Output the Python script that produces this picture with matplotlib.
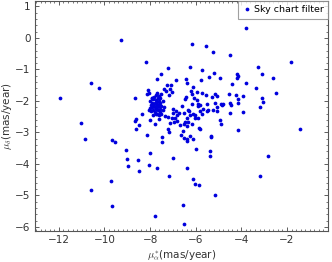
import matplotlib
matplotlib.use("Agg")
import matplotlib.pyplot as plt
from matplotlib.ticker import MultipleLocator

pm_ra = [
    -9.28, -8.18, -10.6, -10.26, -11.96, -11.04, -3.8, -6.18, -5.54, -5.23,
    -4.5, -1.82, -7.22, -6.25, -3.27, -5.74, -5.19, -5.42, -4.94, -4.18,
    -4.14, -4.21, -3.11, -2.6, -5.77, -4.43, -3.81, -3.37, -2.5, -1.41,
    -7.51, -7.7, -6.87, -6.43, -6.4, -6.14, -6.2, -5.93, -7.39, -8.68,
    -7.25, -7.1, -7.13, -7.06, -7.18, -8.15, -8.04, -7.91, -8.36, -8.6,
    -8.67, -8.48, -8.62, -8.0, -7.79, -7.72, -7.5, -7.35, -7.6, -7.23,
    -7.13, -6.99, -6.91, -6.72, -6.81, -6.58, -6.52, -6.4, -6.33, -6.18,
    -6.11, -6.04, -5.92, -6.52, -6.69, -6.37, -6.18, -6.55,
    -5.53, -5.28, -5.06, -4.53, -4.25, -3.92, -5.96, -5.89, -5.82, -5.52,
    -5.16, -4.89, -4.79, -4.84, -4.5, -4.46, -4.16, -4.14, -3.11, -3.04,
    -3.17, -5.67, -5.45, -5.23, -5.08, -5.82, -5.74, -4.5, -3.92, -5.89,
    -4.94, -4.91, -5.86, -5.82, -5.33, -4.14,
    -10.85, -9.68, -9.54, -9.05, -9.02, -8.97, -8.52, -8.5, -8.02, -8.04,
    -8.13, -7.47, -7.47, -7.69, -9.7, -10.57, -9.65, -7.79, -6.65, -6.5,
    -6.4, -6.39, -6.25, -6.14, -5.31, -5.99, -5.38, -5.38, -6.99, -2.85,
    -7.19, -6.4, -3.17, -6.11, -6.05, -5.85, -5.14, -6.55, -6.5,
    -7.15, -6.96, -6.47, -6.34, -8.08, -7.28, -6.47, -6.43, -6.18, -6.07,
    -5.74, -5.16, -7.01, -6.87, -6.81, -6.29, -6.25, -6.02, -5.5, -5.05,
    -7.21, -7.06,
    -7.85, -7.75, -7.65, -7.9, -7.8, -7.7, -7.6, -7.95, -7.85, -7.75,
    -7.65, -7.55, -7.9, -7.8, -7.7, -7.6, -7.5, -7.85, -7.75, -7.65,
    -7.55, -7.95, -7.8, -7.7, -7.6, -7.72, -7.55, -7.45, -7.82, -8.0,
    -8.02, -7.68, -7.45, -7.88, -7.62, -7.5, -7.58, -7.92, -8.05, -7.4,
]
pm_dec = [
    -0.06, -0.76, -1.44, -1.58, -1.9, -2.69, 0.32, -0.18, -0.25, -0.44,
    -0.54, -0.78, -0.96, -0.92, -0.92, -1.02, -1.12, -1.23, -1.28, -1.15,
    -1.2, -1.26, -1.13, -1.26, -1.34, -1.46, -1.44, -1.6, -1.75, -2.89,
    -1.13, -1.31, -1.33, -1.31, -1.43, -1.57, -1.68, -1.72, -1.62, -1.9,
    -1.51, -1.51, -1.63, -1.73, -1.82, -1.79, -1.76, -1.9, -2.41, -2.58,
    -2.64, -2.76, -2.9, -2.62, -2.74, -2.42, -2.4, -2.48, -2.58, -2.88,
    -2.71, -2.39, -2.53, -2.37, -2.64, -2.16, -2.37, -2.53, -2.29, -2.11,
    -2.4, -2.53, -2.16, -2.74, -2.76, -2.8, -2.72, -2.96,
    -1.82, -1.86, -1.84, -1.79, -1.82, -1.84, -1.98, -2.09, -2.14, -2.11,
    -2.05, -2.09, -2.1, -2.13, -2.05, -2.12, -1.95, -2.05, -1.91, -2.02,
    -2.19, -2.25, -2.3, -2.3, -2.32, -2.32, -2.4, -2.37, -2.35, -2.53,
    -2.62, -2.72, -2.85, -2.9, -3.14, -2.93,
    -3.22, -3.25, -3.31, -3.57, -3.84, -4.08, -3.86, -4.21, -3.65, -4.04,
    -3.07, -3.15, -3.31, -4.12, -4.53, -4.84, -5.33, -5.66, -3.09, -3.18,
    -3.22, -3.27, -3.11, -3.2, -3.12, -3.54, -3.59, -3.75, -3.82, -3.76,
    -4.39, -4.13, -4.38, -4.47, -4.63, -4.67, -5.0, -5.3, -5.91,
    -2.97, -2.67, -2.66, -2.66, -1.66, -1.7, -1.95, -1.86, -1.79, -1.91,
    -1.75, -1.79, -2.26, -2.32, -2.44, -2.33, -2.44, -2.44, -2.33, -2.18,
    -2.51, -2.55,
    -1.95, -1.98, -1.92, -2.05, -2.05, -2.03, -2.0, -2.12, -2.12, -2.1,
    -2.12, -2.08, -2.2, -2.18, -2.2, -2.17, -2.15, -2.28, -2.27, -2.3,
    -2.25, -2.33, -2.36, -2.4, -1.85, -1.82, -1.9, -2.0, -1.88, -2.22,
    -2.0, -1.75, -2.28, -2.45, -2.45, -1.78, -2.35, -1.92, -2.3, -2.2,
]
series_label = "Sky chart filter"
x_ticks = [-12, -10, -8, -6, -4, -2]
y_ticks = [1, 0, -1, -2, -3, -4, -5, -6]

plt.rcParams["mathtext.fontset"] = "cm"
plt.rcParams["font.family"] = ["DejaVu Sans"]

fig = plt.figure(figsize=(3.32, 2.62), dpi=100)
ax = fig.add_axes([0.105, 0.118, 0.883, 0.878])

ax.plot(pm_ra, pm_dec, "o", color="#0000dd", markersize=2.7,
        markeredgewidth=0, label=series_label)

ax.set_xlim(-13.05, -0.2)
ax.set_ylim(-6.13, 1.17)
ax.set_xticks(x_ticks)
ax.set_yticks(y_ticks)
ax.xaxis.set_minor_locator(MultipleLocator(0.2))
ax.yaxis.set_minor_locator(MultipleLocator(0.2))
ax.tick_params(which="both", direction="in", top=True, right=True,
               labelsize=7.5, colors="#444444", labelcolor="#333333")
ax.tick_params(which="major", length=3, width=0.6, pad=3)
ax.tick_params(which="minor", length=1.3, width=0.5)
for s in ax.spines.values():
    s.set_color("#555555")
    s.set_linewidth(0.8)

ax.set_xlabel(r"$\mu_{\alpha}^{*}$(mas/year)", fontsize=7.5, labelpad=2,
              color="#333333")
ax.set_ylabel(r"$\mu_{\delta}$(mas/year)", fontsize=7.5, labelpad=1,
              color="#333333")

leg = ax.legend(loc="upper right", fontsize=6.8, frameon=True, fancybox=False,
                borderaxespad=0.0, handletextpad=0.2, handlelength=1.0,
                borderpad=0.45, markerscale=1.0)
leg.get_frame().set_edgecolor("#888888")
leg.get_frame().set_linewidth(0.8)

fig.savefig("out.png", dpi=100)
